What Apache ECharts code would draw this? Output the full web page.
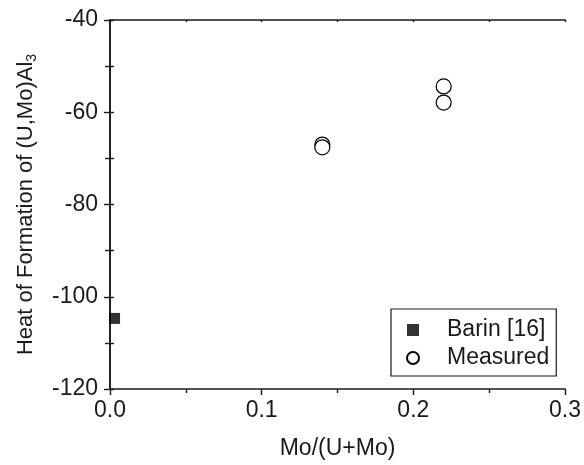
<!DOCTYPE html>
<html>
<head>
<meta charset="utf-8">
<script src="https://cdn.jsdelivr.net/npm/echarts@6/dist/echarts.min.js"></script>
<style>html,body{margin:0;padding:0;background:#fff;}#c{width:584px;height:465px;}</style>
</head>
<body>
<div id="c"></div>
<script>
var xTicks = [0.0, 0.1, 0.2, 0.3];
var yTicks = [-120, -100, -80, -60, -40];
var barinX = [0.003];
var barinY = [-104.7];
var measuredX = [0.14, 0.14, 0.22, 0.22];
var measuredY = [-67.0, -67.6, -54.4, -57.9];

var F = 'Liberation Sans, Arial, sans-serif';
var C = '#1a1a1a';
function zip(a, b) { return a.map(function (v, i) { return [v, b[i]]; }); }

var chart = echarts.init(document.getElementById('c'), null, { renderer: 'canvas' });
var axisLine = { show: true, lineStyle: { color: C, width: 1.6 } };
chart.setOption({
  animation: false,
  backgroundColor: '#fff',
  grid: { left: 110, top: 20, right: 19, bottom: 75, containLabel: false },
  xAxis: [{
    type: 'value', position: 'bottom',
    min: xTicks[0], max: xTicks[xTicks.length - 1], interval: 0.1,
    name: 'Mo/(U+Mo)', nameLocation: 'middle', nameGap: 48,
    nameTextStyle: { fontFamily: F, fontSize: 23, color: C },
    axisLine: axisLine,
    axisTick: { show: true, inside: false, length: 6, lineStyle: { color: C, width: 1.4 } },
    minorTick: { show: true, splitNumber: 2, length: 4, lineStyle: { color: C, width: 1.4 } },
    axisLabel: { fontFamily: F, fontSize: 23, color: C, margin: 10, formatter: function (v) { return v.toFixed(1); } },
    splitLine: { show: false }
  }, {
    type: 'value', position: 'top',
    min: xTicks[0], max: xTicks[xTicks.length - 1], interval: 0.1,
    axisLine: axisLine,
    axisTick: { show: true, inside: true, length: 2, lineStyle: { color: C, width: 1.4 } },
    minorTick: { show: true, splitNumber: 2, length: 2, lineStyle: { color: C, width: 1.4 } },
    axisLabel: { show: false }, splitLine: { show: false }
  }],
  yAxis: [{
    type: 'value', position: 'left',
    min: yTicks[0], max: yTicks[yTicks.length - 1], interval: 20,
    name: 'Heat of Formation of (U,Mo)Al{s|3}', nameLocation: 'middle', nameGap: 71,
    nameTextStyle: { fontFamily: F, fontSize: 22, color: C, rich: { s: { fontFamily: F, fontSize: 14, color: C, verticalAlign: 'bottom', padding: [13, 0, 0, 0] } } },
    axisLine: axisLine,
    axisTick: { show: true, inside: false, length: 6, lineStyle: { color: C, width: 1.4 } },
    minorTick: { show: true, splitNumber: 2, length: 5, lineStyle: { color: C, width: 1.4 } },
    axisLabel: { fontFamily: F, fontSize: 23, color: C, margin: 12 },
    splitLine: { show: false }
  }, {
    type: 'value', position: 'right',
    min: yTicks[0], max: yTicks[yTicks.length - 1], interval: 20,
    axisLine: axisLine,
    axisTick: { show: true, inside: false, length: 4, lineStyle: { color: C, width: 1.4 } },
    minorTick: { show: true, splitNumber: 2, length: 4, lineStyle: { color: C, width: 1.4 } },
    axisLabel: { show: false }, splitLine: { show: false }
  }],
  legend: {
    orient: 'vertical', left: 391, top: 309,
    padding: [9, 7, 6, 15],
    itemWidth: 12, itemHeight: 12, itemGap: 4,
    borderColor: C, borderWidth: 1.2,
    textStyle: { fontFamily: F, fontSize: 23, color: C, lineHeight: 24, padding: [0, 0, 0, 23] },
    data: [{ name: 'Barin [16]', icon: 'rect' }, { name: 'Measured', icon: 'circle' }]
  },
  series: [{
    name: 'Barin [16]', type: 'scatter', symbol: 'rect', symbolSize: 11,
    itemStyle: { color: '#000' },
    data: zip(barinX, barinY)
  }, {
    name: 'Measured', type: 'scatter', symbol: 'circle', symbolSize: 15,
    itemStyle: { color: '#fff', borderColor: '#000', borderWidth: 1.2, opacity: 1 },
    data: zip(measuredX, measuredY)
  }]
});
</script>
</body>
</html>
